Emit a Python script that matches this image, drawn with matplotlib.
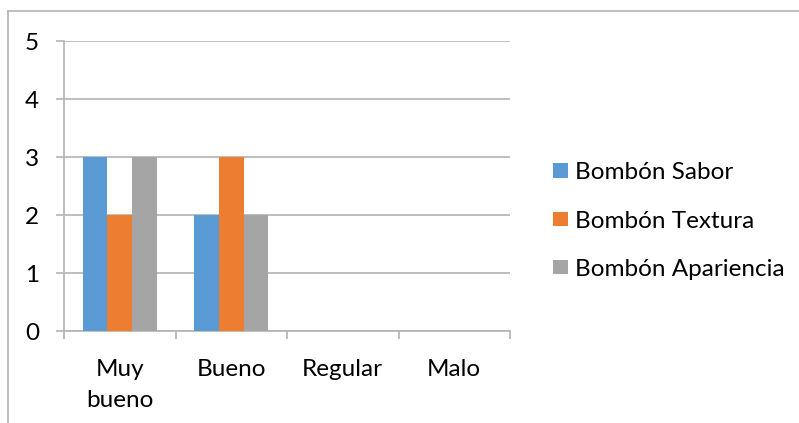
import numpy as np
import matplotlib.pyplot as plt
from matplotlib.lines import Line2D

plt.rcParams['font.family'] = ['Lato', 'DejaVu Sans']

categories = ["Muy\nbueno", "Bueno", "Regular", "Malo"]
series = ["Bombón Sabor", "Bombón Textura", "Bombón Apariencia"]
sabor = [3, 2, 0, 0]
textura = [2, 3, 0, 0]
apariencia = [3, 2, 0, 0]
colors = ["#5B9BD5", "#ED7D31", "#A5A5A5"]

FS = 17.5
W, H = 799, 423
fig = plt.figure(figsize=(W / 100, H / 100), dpi=100)
ax = fig.add_axes([64 / W, 1 - 331 / H, (510 - 64) / W, (331 - 41) / H])

x = np.arange(len(categories))
bw = 0.22
for i, (vals, name) in enumerate(zip([sabor, textura, apariencia], series)):
    ax.bar(x + (i - 1) * bw, vals, width=bw, color=colors[i], label=name, zorder=3)

ax.set_xlim(-0.5, len(categories) - 0.5)
ax.set_ylim(0, 5)
ax.set_yticks(range(6))
ax.yaxis.grid(True, color="#B3B3B3", linewidth=1.2, zorder=0)

for s in ["top", "right"]:
    ax.spines[s].set_visible(False)
ax.spines["left"].set_color("#B3B3B3")
ax.spines["bottom"].set_color("#B3B3B3")
ax.spines["left"].set_linewidth(1.2)
ax.spines["bottom"].set_linewidth(1.2)

# category boundaries carry the x ticks; labels sit on minor ticks at centres
ax.set_xticks(np.arange(-0.5, len(categories)), labels=[""] * (len(categories) + 1))
ax.set_xticks(x, labels=categories, minor=True)
ax.tick_params(axis="x", which="major", length=6, width=1.2, color="#B3B3B3")
ax.tick_params(axis="x", which="minor", length=0, pad=20, labelsize=FS)
ax.tick_params(axis="y", length=6, width=1.2, color="#B3B3B3", pad=12, labelsize=FS)
for lab in ax.get_xticklabels(minor=True):
    lab.set_linespacing(1.6)

ax.legend(loc="center left", bbox_to_anchor=(553 / W, 1 - 221 / H),
          bbox_transform=fig.transFigure, frameon=False, fontsize=FS,
          handlelength=0.6, handleheight=0.55, handletextpad=0.3,
          labelspacing=1.12, borderaxespad=0, borderpad=0)

# chart area border
fig.add_artist(Line2D([8 / W, 1], [1 - 11 / H, 1 - 11 / H], color="#B3B3B3", linewidth=1.2))
fig.add_artist(Line2D([8 / W, 8 / W], [0, 1 - 11 / H], color="#B3B3B3", linewidth=1.2))

fig.savefig("out.png", dpi=100)
